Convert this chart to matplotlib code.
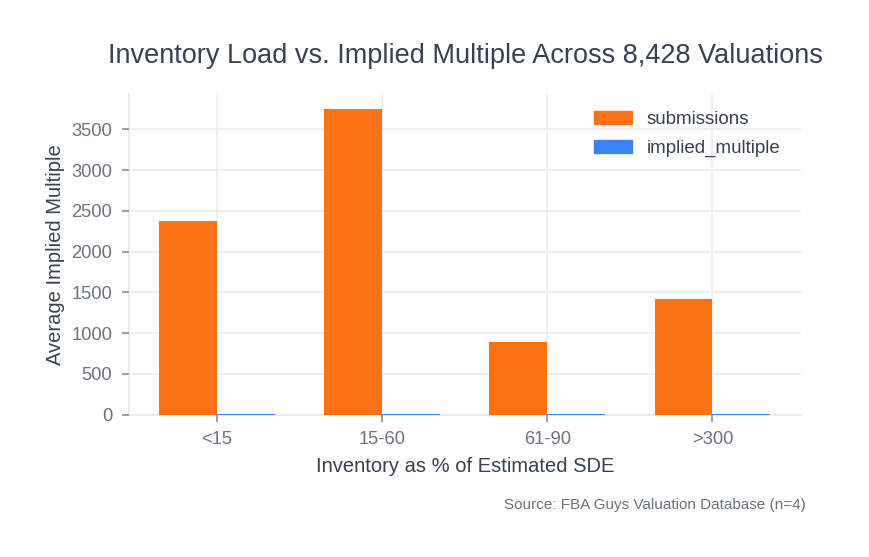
import numpy as np
import matplotlib
matplotlib.use("Agg")
import matplotlib.pyplot as plt
from matplotlib.patches import Patch

plt.rcParams["font.family"] = ["Liberation Sans", "DejaVu Sans"]

categories = ["<15", "15-60", "61-90", ">300"]
submissions = [2375, 3752, 895, 1412]
implied_multiple = [3.1, 3.4, 3.0, 2.8]

ORANGE = "#F97316"
BLUE = "#3B82F6"
TEXT = "#374151"
TICK = "#6B7280"
GRID = "#ECECF1"

W, H = 869, 557
fig = plt.figure(figsize=(W / 100, H / 100), dpi=100)
left, right, top, bottom = 129, 801, 94.3, 414.5
ax = fig.add_axes([left / W, 1 - bottom / H, (right - left) / W, (bottom - top) / H])

x = np.arange(len(categories))
bw = 0.35
ax.bar(x - bw / 2, submissions, width=bw, color=ORANGE, label="submissions", zorder=3)
ax.bar(x + bw / 2, implied_multiple, width=bw, color=BLUE, label="implied_multiple", zorder=3)

ax.set_xlim(-0.533, 3.537)
ax.set_ylim(0, 3929)
ax.set_xticks(x)
ax.set_xticklabels(categories)
ax.set_yticks(np.arange(0, 3501, 500))

ax.grid(True, color=GRID, linewidth=1.2, zorder=0)
for s in ["top", "right"]:
    ax.spines[s].set_visible(False)
for s in ["left", "bottom"]:
    ax.spines[s].set_color("#E5E7EB")
    ax.spines[s].set_linewidth(1.2)
    ax.spines[s].set_zorder(1)
ax.tick_params(axis="both", colors="#8A8F99", length=5, width=1.2, labelsize=13.2)
for lbl in ax.get_xticklabels() + ax.get_yticklabels():
    lbl.set_color(TICK)
ax.tick_params(axis="x", pad=7)
ax.tick_params(axis="y", pad=7)

ax.set_xlabel("Inventory as % of Estimated SDE", fontsize=14.5, color=TEXT, labelpad=6)
ax.set_ylabel("Average Implied Multiple", fontsize=14.5, color=TEXT, labelpad=5)

fig.text((left + right) / 2 / W, 1 - 56 / H,
         "Inventory Load vs. Implied Multiple Across 8,428 Valuations",
         ha="center", va="center", fontsize=19.5, color=TEXT)
fig.text(806 / W, 1 - 505 / H, "Source: FBA Guys Valuation Database (n=4)",
         ha="right", va="center", fontsize=11, color=TICK)

handles = [Patch(color=ORANGE), Patch(color=BLUE)]
leg = fig.legend(handles, ["submissions", "implied_multiple"], loc="upper left",
                 bbox_to_anchor=(594 / W, 1 - 111 / H), bbox_transform=fig.transFigure,
                 frameon=False, fontsize=13.5, borderpad=0, borderaxespad=0,
                 handlelength=2.0, handleheight=0.68, handletextpad=0.8, labelspacing=0.62)
for t in leg.get_texts():
    t.set_color(TEXT)

fig.savefig("out.png", dpi=100)
